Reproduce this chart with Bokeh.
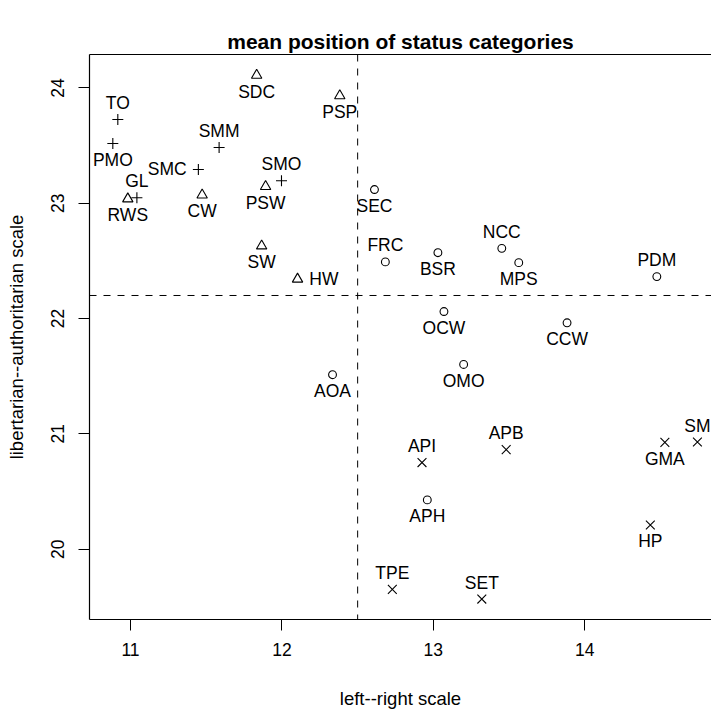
from bokeh.plotting import figure
from bokeh.models import ColumnDataSource, Span, LinearAxis
from bokeh.core.properties import value
from bokeh.embed import file_html
from bokeh.resources import INLINE

# ---- data ----
plus_labels = ["TO", "PMO", "GL", "SMC", "SMM", "SMO"]
plus_x = [10.916, 10.883, 11.042, 11.448, 11.585, 11.997]
plus_y = [23.726, 23.518, 23.048, 23.293, 23.483, 23.195]
plus_pos = [3, 1, 3, 2, 3, 3]

tri_labels = ["SDC", "PSP", "PSW", "RWS", "CW", "SW", "HW"]
tri_x = [11.833, 12.382, 11.892, 10.982, 11.473, 11.866, 12.103]
tri_y = [24.110, 23.932, 23.145, 23.038, 23.072, 22.630, 22.342]
tri_pos = [1, 1, 1, 1, 1, 1, 4]

circ_labels = ["SEC", "FRC", "BSR", "NCC", "MPS", "PDM", "OCW", "CCW", "OMO", "AOA", "APH"]
circ_x = [12.611, 12.683, 13.030, 13.452, 13.564, 14.476, 13.070, 13.883, 13.200, 12.334, 12.960]
circ_y = [23.119, 22.491, 22.571, 22.609, 22.485, 22.364, 22.061, 21.963, 21.602, 21.513, 20.427]
circ_pos = [1, 3, 1, 3, 1, 3, 1, 1, 1, 1, 1]

ex_labels = ["API", "APB", "GMA", "SM", "HP", "TPE", "SET"]
ex_x = [12.925, 13.481, 14.529, 14.744, 14.433, 12.729, 13.320]
ex_y = [20.751, 20.863, 20.926, 20.929, 20.210, 19.651, 19.567]
ex_pos = [3, 3, 1, 3, 1, 3, 3]

x_ticks = [11, 12, 13, 14]
y_ticks = [20, 21, 22, 23, 24]
x_cut = 12.5
y_cut = 22.2

title_text = "mean position of status categories"
x_title = "left--right scale"
y_title = "libertarian--authoritarian scale"

FONT = "Liberation Sans"
FS = "17.5px"
FS_LAB = "18.5px"

p = figure(width=711, height=711,
           x_range=(10.729, 14.837), y_range=(19.39, 24.29),
           output_backend="svg", toolbar_location=None,
           min_border_left=89, min_border_right=0,
           min_border_top=54, min_border_bottom=91,
           title=title_text)

p.background_fill_color = "white"
p.border_fill_color = "white"
p.outline_line_color = None
p.xgrid.visible = False
p.ygrid.visible = False

p.title.align = "center"
p.title.text_font = FONT
p.title.text_font_size = "21px"
p.title.text_font_style = "bold"
p.title.text_color = "black"
p.title.standoff = 3

xax = p.below[0]
yax = p.left[0]

for ax in (xax, yax):
    ax.axis_line_color = "black"
    ax.axis_line_width = 1.2
    ax.major_tick_out = 11
    ax.major_tick_in = 0
    ax.minor_tick_out = 0
    ax.minor_tick_in = 0
    ax.major_tick_line_color = "black"
    ax.major_tick_line_width = 1
    ax.major_label_text_font = FONT
    ax.major_label_text_font_size = FS
    ax.major_label_text_color = "black"
    ax.axis_label_text_font = FONT
    ax.axis_label_text_font_size = FS_LAB
    ax.axis_label_text_font_style = "normal"
    ax.axis_label_text_color = "black"

xax.ticker = x_ticks
yax.ticker = y_ticks
xax.axis_label = x_title
yax.axis_label = y_title
xax.major_label_standoff = 12
yax.major_label_standoff = 14
xax.axis_label_standoff = 29
yax.axis_label_standoff = 22
yax.major_label_orientation = "vertical"

# top edge of the box (R's box(); right edge lies outside the window)
top_axis = LinearAxis(ticker=[], major_tick_out=0, major_tick_in=0,
                      minor_tick_out=0, minor_tick_in=0,
                      major_label_text_font_size="0px",
                      axis_line_color="black", axis_line_width=1.2)
p.add_layout(top_axis, "above")

p.add_layout(Span(location=x_cut, dimension="height", line_color="black",
                  line_width=1, line_dash="7 7"))
p.add_layout(Span(location=y_cut, dimension="width", line_color="black",
                  line_width=1, line_dash="7 7"))

p.scatter(plus_x, plus_y, marker="cross", size=11, line_color="black",
          line_width=1.1, fill_color=None)
p.scatter(tri_x, tri_y, marker="triangle", size=10.4, line_color="black",
          line_width=1.1, fill_color=None)
p.scatter(circ_x, circ_y, marker="circle", size=7.8, line_color="black",
          line_width=1.1, fill_color=None)
p.scatter(ex_x, ex_y, marker="x", size=12.5, line_color="black",
          line_width=1.1, fill_color=None)

# labels placed R-style by position code (1 below, 2 left, 3 above, 4 right)
OFF_V = 16.5
OFF_H = 11.7
lx, ly, lt, la, lxo, lyo = [], [], [], [], [], []
for labels, xs, ys, poss in ((plus_labels, plus_x, plus_y, plus_pos),
                             (tri_labels, tri_x, tri_y, tri_pos),
                             (circ_labels, circ_x, circ_y, circ_pos),
                             (ex_labels, ex_x, ex_y, ex_pos)):
    for t, xv, yv, ps in zip(labels, xs, ys, poss):
        lx.append(xv)
        ly.append(yv)
        lt.append(t)
        if ps == 1:
            la.append("center"); lxo.append(0); lyo.append(OFF_V)
        elif ps == 3:
            la.append("center"); lxo.append(0); lyo.append(-OFF_V)
        elif ps == 2:
            la.append("right"); lxo.append(-OFF_H); lyo.append(0)
        else:
            la.append("left"); lxo.append(OFF_H); lyo.append(0)

src = ColumnDataSource(dict(x=lx, y=ly, text=lt, align=la, xo=lxo, yo=lyo))
p.text(x="x", y="y", text="text", source=src, text_align="align",
       text_baseline="middle", x_offset="xo", y_offset="yo",
       text_font=value(FONT), text_font_size=FS, text_color="black")

open("out.html", "w").write(file_html(p, INLINE))
